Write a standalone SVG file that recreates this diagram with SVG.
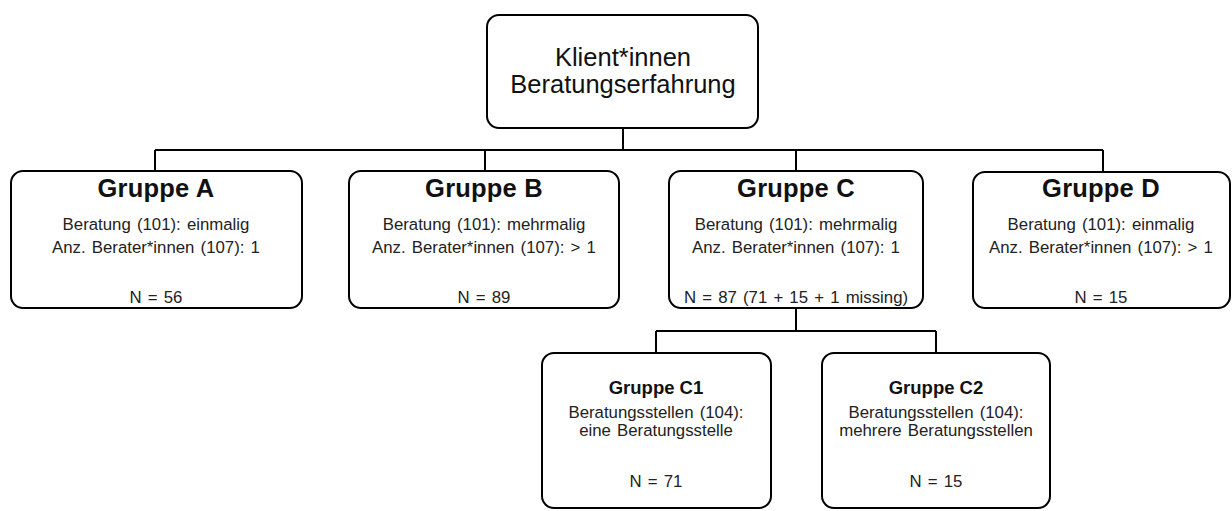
<svg xmlns="http://www.w3.org/2000/svg" width="1232" height="511" viewBox="0 0 1232 511">
<style>
.box{fill:#fff;stroke:#000;stroke-width:2}
.con{fill:none;stroke:#000;stroke-width:2}
text{font-family:"Liberation Sans",Arial,sans-serif;text-anchor:middle;fill:#111}
.root{font-size:25.5px}
.t{font-size:25.5px;font-weight:bold;letter-spacing:0.2px}
.ts{font-size:18.5px;font-weight:bold}
.b{font-size:16.8px;fill:#222;word-spacing:1.5px}
</style>
<rect width="1232" height="511" fill="#fff"/>
<g id="connectors">
<path class="con" d="M623 128V150M155 150H1103M155 150V171M485 150V171M796 150V171M1103 150V171"/>
<path class="con" d="M796 308V331M656 331H936M656 331V353M936 331V353"/>
</g>
<g id="root">
<rect class="box" x="487" y="15" width="271" height="113" rx="12"/>
<text class="root" x="623" y="66">Klient*innen</text>
<text class="root" x="623" y="93">Beratungserfahrung</text>
</g>
<g id="gruppeA">
<rect class="box" x="11" y="171" width="291" height="137" rx="12"/>
<text class="t" x="156" y="197">Gruppe A</text>
<text class="b" x="156" y="230">Beratung (101): einmalig</text>
<text class="b" x="156" y="253">Anz. Berater*innen (107): 1</text>
<text class="b" x="156" y="303">N = 56</text>
</g>
<g id="gruppeB">
<rect class="box" x="349" y="171" width="270" height="137" rx="12"/>
<text class="t" x="484" y="197">Gruppe B</text>
<text class="b" x="484" y="230">Beratung (101): mehrmalig</text>
<text class="b" x="484" y="253">Anz. Berater*innen (107): &gt; 1</text>
<text class="b" x="484" y="303">N = 89</text>
</g>
<g id="gruppeC">
<rect class="box" x="669" y="171" width="254" height="137" rx="12"/>
<text class="t" x="796" y="197">Gruppe C</text>
<text class="b" x="796" y="230">Beratung (101): mehrmalig</text>
<text class="b" x="796" y="253">Anz. Berater*innen (107): 1</text>
<text class="b" x="796" y="303">N = 87 (71 + 15 + 1 missing)</text>
</g>
<g id="gruppeD">
<rect class="box" x="973" y="172" width="257" height="136" rx="12"/>
<text class="t" x="1101" y="197">Gruppe D</text>
<text class="b" x="1101" y="230">Beratung (101): einmalig</text>
<text class="b" x="1101" y="253">Anz. Berater*innen (107): &gt; 1</text>
<text class="b" x="1101" y="303">N = 15</text>
</g>
<g id="gruppeC1">
<rect class="box" x="542" y="353" width="229" height="155" rx="12"/>
<text class="ts" x="656" y="394">Gruppe C1</text>
<text class="b" x="656" y="418">Beratungsstellen (104):</text>
<text class="b" x="656" y="436">eine Beratungsstelle</text>
<text class="b" x="656" y="487">N = 71</text>
</g>
<g id="gruppeC2">
<rect class="box" x="822" y="353" width="228" height="155" rx="12"/>
<text class="ts" x="936" y="394">Gruppe C2</text>
<text class="b" x="936" y="418">Beratungsstellen (104):</text>
<text class="b" x="936" y="436">mehrere Beratungsstellen</text>
<text class="b" x="936" y="487">N = 15</text>
</g>
</svg>
